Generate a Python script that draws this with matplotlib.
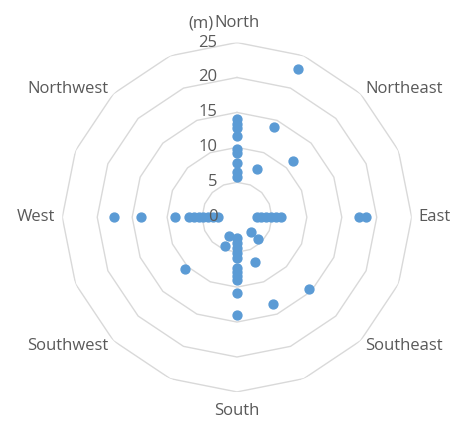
import numpy as np
import matplotlib
matplotlib.use("Agg")
import matplotlib.pyplot as plt

plt.rcParams['font.family'] = ['Open Sans', 'DejaVu Sans']

# 16 compass directions, only the main 8 carry a label
directions = ['North', '', 'Northeast', '', 'East', '', 'Southeast', '',
              'South', '', 'Southwest', '', 'West', '', 'Northwest', '']

# distances (m) read per direction
north = [14.0, 13.4, 12.8, 11.6, 9.7, 9.2, 7.8, 6.5, 5.8]
nne = [23.0, 14.0, 7.4]
northeast = [11.4]
east = [2.8, 3.5, 4.2, 4.9, 5.6, 6.3, 17.4, 18.4]
southeast = [2.9, 4.35, 14.6]
sse = [6.9, 13.4]
south = [3.0, 3.7, 4.4, 5.1, 5.8, 7.2, 7.8, 8.4, 9.0, 10.8, 14.0]
ssw = [2.9, 4.5]
southwest = [10.5]
west = [2.7, 3.4, 4.1, 4.8, 5.5, 6.2, 6.9, 8.9, 13.8, 17.6]

series = {0: north, 1: nne, 2: northeast, 4: east, 6: southeast, 7: sse,
          8: south, 9: ssw, 10: southwest, 12: west}

rings = [5, 10, 15, 20, 25]
ring_labels = ['0', '5', '10', '15', '20', '25']

blue = '#5B9BD5'
grey_txt = '#595959'
grid_c = '#D9D9D9'
fs = 12

n = len(directions)
angles = np.arange(n) * 2 * np.pi / n

fig = plt.figure(figsize=(4.54, 4.21), dpi=100)
ax = fig.add_axes([0.1372, 0.069, 0.7696, 0.830], projection='polar')
ax.set_theta_zero_location('N')
ax.set_theta_direction(-1)
ax.set_ylim(0, 25)
ax.grid(False)
ax.spines['polar'].set_visible(False)
ax.set_xticks([])
ax.set_yticks([])
ax.patch.set_alpha(0)

# polygon rings
closed = np.append(angles, angles[0])
for r in rings:
    ax.plot(closed, [r] * len(closed), color=grid_c, lw=1, zorder=1)

# points
for idx, vals in series.items():
    ax.plot([angles[idx]] * len(vals), vals, 'o', color=blue, ms=6.4,
            mec=blue, zorder=3, clip_on=False)

# radial value labels, left of the north axis
for i, lab in enumerate(ring_labels):
    ax.annotate(lab, xy=(0, i * 5), xytext=(-14, 0), textcoords='offset points',
                ha='right', va='center', fontsize=fs, color=grey_txt,
                annotation_clip=False, zorder=4)

# category labels
align = {0: ('center', 'bottom'), 2: ('left', 'center'), 4: ('left', 'center'),
         6: ('left', 'center'), 8: ('center', 'top'), 10: ('right', 'center'),
         12: ('right', 'center'), 14: ('right', 'center')}
for i, name in enumerate(directions):
    if not name:
        continue
    ha, va = align[i]
    rr = 26.6 if i in (0, 8) else 26.0
    ax.text(angles[i], rr, name, ha=ha, va=va, fontsize=fs, color=grey_txt)

ax.annotate('(m)', xy=(0, 26.6), xytext=(-17, 0), textcoords='offset points',
            ha='right', va='bottom', fontsize=fs, color=grey_txt,
            annotation_clip=False)

fig.savefig('out.png', dpi=100)
